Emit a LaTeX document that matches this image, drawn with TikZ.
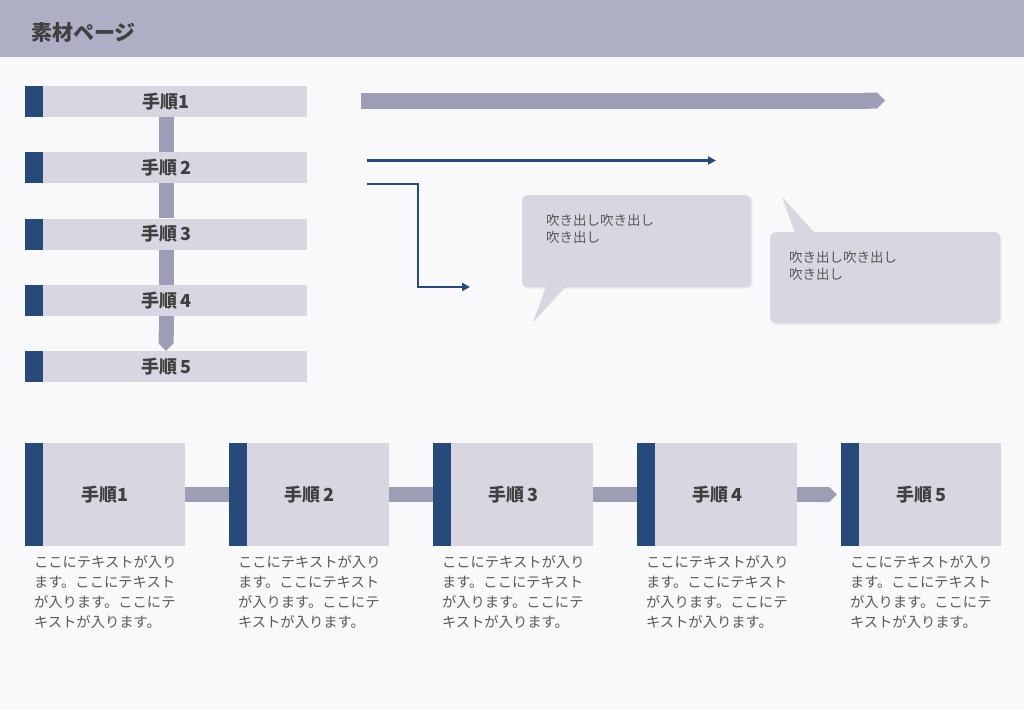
\documentclass[tikz,border=0pt]{standalone}
\usepackage{fontspec}
\setmainfont{Noto Sans CJK JP}
\usetikzlibrary{calc}
\usetikzlibrary{positioning}
\usetikzlibrary{arrows.meta}
\usetikzlibrary{shadows}
\definecolor{pageBg}{HTML}{F9F9FC}
\definecolor{headBg}{HTML}{AEAEC4}
\definecolor{stepFill}{HTML}{D8D7E1}
\definecolor{stepDark}{HTML}{284A7A}
\definecolor{linkFill}{HTML}{9D9DB6}
\definecolor{labelText}{HTML}{404040}
\definecolor{bodyText}{HTML}{595959}
\tikzstyle{headbar} = [rectangle, fill=headBg, minimum width=1024pt, minimum height=57pt, inner sep=0pt]
\tikzstyle{headtitle} = [inner sep=0pt, text=labelText, font=\fontsize{21}{21}\selectfont\bfseries]
\tikzstyle{stepbar} = [rectangle, fill=stepFill, minimum width=282pt, minimum height=31pt, inner sep=0pt, text=labelText, font=\fontsize{18}{18}\selectfont\bfseries]
\tikzstyle{stepbox} = [rectangle, fill=stepFill, minimum width=160pt, minimum height=103pt, inner sep=0pt, text=labelText, font=\fontsize{18}{18}\selectfont\bfseries]
\tikzstyle{stepmark} = [rectangle, fill=stepDark, inner sep=0pt, minimum width=18pt, anchor=west]
\tikzstyle{steplink} = [draw=linkFill, line width=15pt]
\tikzstyle{steplinktip} = [steplink, -{Triangle Cap}]
\tikzstyle{thinarrow} = [draw=stepDark, line width=2.5pt, -{Triangle[length=8pt,width=8pt]}]
\tikzstyle{bubble} = [rectangle, rounded corners=5pt, fill=stepFill, inner sep=0pt, anchor=north west, drop shadow={shadow xshift=1.5pt, shadow yshift=-1.5pt, opacity=0.12}]
\tikzstyle{bubbletext} = [anchor=north west, inner sep=0pt, align=left, text=bodyText, font=\fontsize{13.5}{17}\selectfont]
\tikzstyle{bodytext} = [anchor=north west, inner sep=0pt, align=left, text=bodyText, font=\fontsize{14.3}{20}\selectfont]

\begin{document}
\begin{tikzpicture}[x=1pt, y=-1pt]
\useasboundingbox (0,0) rectangle (1024,709);
\fill[pageBg] (0,0) rectangle (1024,709);
\node[headbar] (head_bar) at (512,28.5) {};
\node[headtitle, anchor=west] (head_title) at (31,33) {素材ページ};

% vertical list
\node[stepbar] (list_step1) at (166,101.5) {手順1};
\node[stepbar] (list_step2) at ($(list_step1)+(0,66.25)$) {手順\,2};
\node[stepbar] (list_step3) at ($(list_step2)+(0,66.25)$) {手順\,3};
\node[stepbar] (list_step4) at ($(list_step3)+(0,66.25)$) {手順\,4};
\node[stepbar] (list_step5) at ($(list_step4)+(0,66.25)$) {手順\,5};
\node[stepmark, minimum height=31pt] (list_mark1) at (list_step1.west) {};
\node[stepmark, minimum height=31pt] (list_mark2) at (list_step2.west) {};
\node[stepmark, minimum height=31pt] (list_mark3) at (list_step3.west) {};
\node[stepmark, minimum height=31pt] (list_mark4) at (list_step4.west) {};
\node[stepmark, minimum height=31pt] (list_mark5) at (list_step5.west) {};
\draw[steplink] (list_step1.south) -- (list_step2.north);
\draw[steplink] (list_step2.south) -- (list_step3.north);
\draw[steplink] (list_step3.south) -- (list_step4.north);
\draw[steplinktip] (list_step4.south) -- (list_step5.north);

% arrows
\coordinate (band_start) at (361,100.5);
\coordinate (band_end) at (885,100.5);
\draw[steplinktip, line width=16pt] (band_start) -- (band_end);
\coordinate (line_start) at (367,160.5);
\coordinate (line_end) at (716,160.5);
\draw[thinarrow] (line_start) -- (line_end);
\coordinate (elbow_start) at (367,184);
\coordinate (elbow_bend) at (418,287);
\coordinate (elbow_end) at (470,287);
\draw[thinarrow] (elbow_start) -| (elbow_bend) -- (elbow_end);

% callouts
\node[bubble, minimum width=229pt, minimum height=92pt] (bubble_left) at (522,195) {};
\fill[stepFill] ($(bubble_left.south west)+(24,-1)$) -- ($(bubble_left.south west)+(11,35)$) -- ($(bubble_left.south west)+(44,-1)$) -- cycle;
\node[bubbletext] (bubble_left_text) at ($(bubble_left.north west)+(24,19)$) {吹き出し吹き出し\\吹き出し};
\node[bubble, minimum width=230pt, minimum height=91pt] (bubble_right) at (770,232) {};
\fill[stepFill] ($(bubble_right.north west)+(25,1)$) -- ($(bubble_right.north west)+(12,-35)$) -- ($(bubble_right.north west)+(45,1)$) -- cycle;
\node[bubbletext] (bubble_right_text) at ($(bubble_right.north west)+(19,19)$) {吹き出し吹き出し\\吹き出し};

% horizontal row
\node[stepbox] (row_step1) at (105,494.5) {手順1};
\node[stepbox] (row_step2) at ($(row_step1)+(204,0)$) {手順\,2};
\node[stepbox] (row_step3) at ($(row_step2)+(204,0)$) {手順\,3};
\node[stepbox] (row_step4) at ($(row_step3)+(204,0)$) {手順\,4};
\node[stepbox] (row_step5) at ($(row_step4)+(204,0)$) {手順\,5};
\node[stepmark, minimum height=103pt] (row_mark1) at (row_step1.west) {};
\node[stepmark, minimum height=103pt] (row_mark2) at (row_step2.west) {};
\node[stepmark, minimum height=103pt] (row_mark3) at (row_step3.west) {};
\node[stepmark, minimum height=103pt] (row_mark4) at (row_step4.west) {};
\node[stepmark, minimum height=103pt] (row_mark5) at (row_step5.west) {};
\draw[steplink] (row_step1.east) -- (row_mark2.west);
\draw[steplink] (row_step2.east) -- (row_mark3.west);
\draw[steplink] (row_step3.east) -- (row_mark4.west);
\draw[steplinktip, shorten >=4pt] (row_step4.east) -- (row_mark5.west);
\node[bodytext] (row_text1) at ($(row_step1.south west)+(9,9)$) {ここにテキストが入り\\ます。ここにテキスト\\が入ります。ここにテ\\キストが入ります。};
\node[bodytext] (row_text2) at ($(row_step2.south west)+(9,9)$) {ここにテキストが入り\\ます。ここにテキスト\\が入ります。ここにテ\\キストが入ります。};
\node[bodytext] (row_text3) at ($(row_step3.south west)+(9,9)$) {ここにテキストが入り\\ます。ここにテキスト\\が入ります。ここにテ\\キストが入ります。};
\node[bodytext] (row_text4) at ($(row_step4.south west)+(9,9)$) {ここにテキストが入り\\ます。ここにテキスト\\が入ります。ここにテ\\キストが入ります。};
\node[bodytext] (row_text5) at ($(row_step5.south west)+(9,9)$) {ここにテキストが入り\\ます。ここにテキスト\\が入ります。ここにテ\\キストが入ります。};
\end{tikzpicture}
\end{document}
